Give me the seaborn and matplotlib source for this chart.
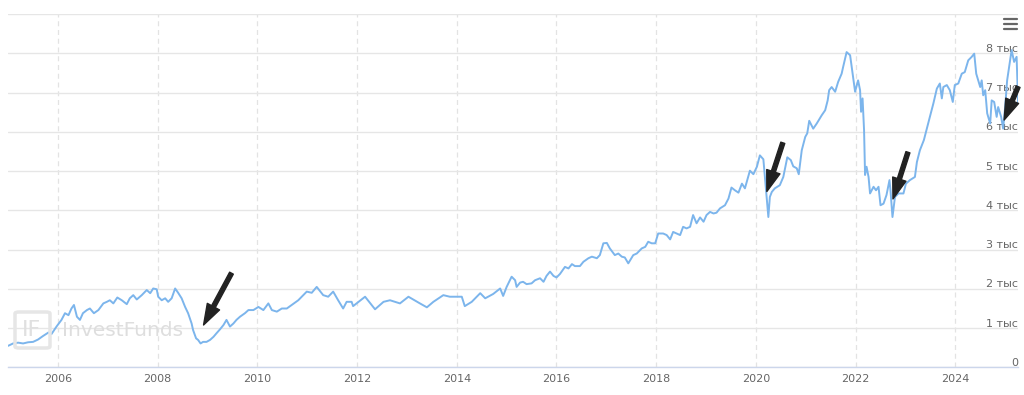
import numpy as np
import pandas as pd
import seaborn as sns
import matplotlib.pyplot as plt
from matplotlib.transforms import ScaledTranslation
from matplotlib.patches import FancyBboxPatch
from matplotlib.lines import Line2D

# index level (decimal year, points)
years = [
    2005.00, 2005.10, 2005.20, 2005.30, 2005.40, 2005.50, 2005.60, 2005.70, 2005.81, 2005.87,
    2005.97, 2006.07, 2006.14, 2006.21, 2006.27, 2006.32, 2006.38, 2006.44, 2006.50, 2006.58,
    2006.64, 2006.72, 2006.81, 2006.91, 2006.98, 2007.04, 2007.11, 2007.19, 2007.28, 2007.38,
    2007.44, 2007.51, 2007.58, 2007.68, 2007.78, 2007.85, 2007.91, 2007.98, 2008.01, 2008.08,
    2008.15, 2008.21, 2008.28, 2008.35, 2008.41, 2008.48, 2008.55, 2008.61, 2008.68, 2008.71,
    2008.77, 2008.81, 2008.86, 2008.91, 2008.98, 2009.05, 2009.12, 2009.18, 2009.25, 2009.32,
    2009.38, 2009.45, 2009.52, 2009.58, 2009.65, 2009.75, 2009.82, 2009.92, 2010.02, 2010.12,
    2010.22, 2010.29, 2010.39, 2010.49, 2010.59, 2010.69, 2010.82, 2010.99, 2011.09, 2011.19,
    2011.32, 2011.42, 2011.52, 2011.62, 2011.72, 2011.79, 2011.89, 2011.92, 2012.16, 2012.36,
    2012.53, 2012.66, 2012.86, 2013.03, 2013.26, 2013.40, 2013.53, 2013.73, 2013.86, 2014.10,
    2014.16, 2014.30, 2014.47, 2014.57, 2014.73, 2014.87, 2014.93, 2015.00, 2015.10, 2015.17,
    2015.20, 2015.27, 2015.33, 2015.40, 2015.50, 2015.57, 2015.67, 2015.74, 2015.80, 2015.87,
    2015.94, 2016.00, 2016.07, 2016.17, 2016.24, 2016.31, 2016.37, 2016.47, 2016.54, 2016.64,
    2016.71, 2016.81, 2016.87, 2016.94, 2017.01, 2017.07, 2017.17, 2017.24, 2017.31, 2017.37,
    2017.44, 2017.54, 2017.61, 2017.71, 2017.78, 2017.84, 2017.91, 2017.98, 2018.04, 2018.14,
    2018.21, 2018.28, 2018.34, 2018.41, 2018.48, 2018.54, 2018.61, 2018.68, 2018.74, 2018.81,
    2018.88, 2018.95, 2019.01, 2019.08, 2019.15, 2019.21, 2019.28, 2019.38, 2019.45, 2019.51,
    2019.58, 2019.65, 2019.72, 2019.78, 2019.88, 2019.95, 2020.02, 2020.08, 2020.15, 2020.22,
    2020.25, 2020.28, 2020.32, 2020.38, 2020.48, 2020.55, 2020.63, 2020.70, 2020.75, 2020.82,
    2020.86, 2020.92, 2020.99, 2021.03, 2021.07, 2021.15, 2021.22, 2021.32, 2021.39, 2021.44,
    2021.47, 2021.52, 2021.59, 2021.65, 2021.72, 2021.75, 2021.82, 2021.89, 2021.94, 2021.99,
    2022.05, 2022.09, 2022.11, 2022.14, 2022.17, 2022.19, 2022.22, 2022.26, 2022.29, 2022.36,
    2022.41, 2022.46, 2022.50, 2022.56, 2022.62, 2022.68, 2022.70, 2022.74, 2022.79, 2022.86,
    2022.96, 2023.01, 2023.09, 2023.19, 2023.23, 2023.29, 2023.37, 2023.43, 2023.49, 2023.56,
    2023.63, 2023.69, 2023.73, 2023.76, 2023.83, 2023.89, 2023.95, 2023.99, 2024.06, 2024.13,
    2024.19, 2024.26, 2024.33, 2024.38, 2024.42, 2024.46, 2024.50, 2024.53, 2024.56, 2024.60,
    2024.64, 2024.70, 2024.73, 2024.78, 2024.83, 2024.86, 2024.92, 2024.96, 2025.00, 2025.04,
    2025.10, 2025.13, 2025.18, 2025.23, 2025.26,
]
values = [
    550, 610, 630, 610, 640, 650, 710, 800, 890, 850,
    1040, 1210, 1380, 1330, 1500, 1590, 1290, 1210, 1380, 1460,
    1500, 1380, 1460, 1630, 1670, 1710, 1630, 1780, 1710, 1610,
    1760, 1840, 1730, 1840, 1970, 1890, 2010, 1990, 1800, 1710,
    1760, 1670, 1760, 2010, 1900, 1760, 1540, 1380, 1120, 950,
    740, 700, 610, 650, 650, 700, 780, 870, 970, 1080,
    1210, 1040, 1120, 1210, 1290, 1380, 1460, 1460, 1540, 1460,
    1630, 1460, 1420, 1500, 1500, 1590, 1710, 1930, 1900, 2050,
    1840, 1800, 1930, 1710, 1500, 1670, 1670, 1560, 1800, 1480,
    1670, 1710, 1630, 1800, 1630, 1530, 1670, 1840, 1800, 1800,
    1560, 1670, 1890, 1760, 1870, 2010, 1820, 2050, 2310, 2220,
    2050, 2160, 2180, 2120, 2140, 2220, 2270, 2180, 2330, 2440,
    2330, 2290, 2380, 2560, 2520, 2630, 2580, 2580, 2690, 2780,
    2820, 2780, 2860, 3160, 3170, 3030, 2860, 2900, 2820, 2800,
    2650, 2860, 2900, 3030, 3070, 3200, 3160, 3160, 3410, 3410,
    3370, 3260, 3450, 3410, 3370, 3580, 3540, 3580, 3880, 3670,
    3820, 3710, 3880, 3960, 3920, 3940, 4050, 4130, 4300, 4580,
    4510, 4450, 4680, 4560, 5010, 4920, 5110, 5400, 5300, 4260,
    3830, 4340, 4470, 4560, 4640, 4850, 5350, 5280, 5120, 5070,
    4920, 5530, 5870, 5960, 6280, 6080, 6210, 6420, 6550, 6800,
    7060, 7140, 7020, 7270, 7480, 7650, 8030, 7950, 7480, 7020,
    7310, 7060, 6510, 6850, 6040, 4900, 5110, 4850, 4430, 4600,
    4510, 4600, 4130, 4170, 4390, 4770, 4510, 3830, 4340, 4430,
    4430, 4680, 4770, 4850, 5230, 5530, 5790, 6080, 6380, 6720,
    7100, 7230, 6850, 7140, 7190, 7060, 6760, 7190, 7230, 7480,
    7520, 7820, 7910, 7990, 7480, 7310, 7140, 7310, 6930, 7060,
    6470, 6210, 6800, 6760, 6380, 6630, 6380, 6080, 6630, 7310,
    7820, 8080, 7780, 7910, 6720,
]

x_ticks = [2006, 2008, 2010, 2012, 2014, 2016, 2018, 2020, 2022, 2024]
y_ticks = [0, 1000, 2000, 3000, 4000, 5000, 6000, 7000, 8000, 9000]
y_labels = ['0', '1 тыс', '2 тыс', '3 тыс', '4 тыс', '5 тыс', '6 тыс', '7 тыс', '8 тыс', '']

# arrows drawn on the chart: (tail year, tail value, tip year, tip value)
arrow_tails_x = [2009.48, 2020.54, 2023.05, 2025.26]
arrow_tails_y = [2400, 5720, 5480, 7150]
arrow_tips_x = [2008.92, 2020.22, 2022.75, 2024.98]
arrow_tips_y = [1080, 4480, 4290, 6300]

df = pd.DataFrame({'year': years, 'value': values})

sns.set_style('white')
plt.rcParams['font.family'] = ['DejaVu Sans']

fig = plt.figure(figsize=(10.24, 3.95), dpi=100)
ax = fig.add_axes([8 / 1024, (395 - 367.4) / 395, 1010 / 1024, (367.4 - 14) / 395])

sns.lineplot(data=df, x='year', y='value', ax=ax, color='#7cb5ec',
             linewidth=1.4, estimator=None, zorder=3)

ax.set_xlim(2004.997, 2025.258)
ax.set_ylim(0, 9000)
ax.set_xlabel('')
ax.set_ylabel('')

ax.set_xticks(x_ticks)
ax.set_xticklabels([str(t) for t in x_ticks])
ax.set_yticks(y_ticks)
ax.set_yticklabels(y_labels)

ax.grid(axis='y', color='#e6e6e6', linewidth=1, linestyle='-')
ax.grid(axis='x', color='#e3e3e3', linewidth=0.9, linestyle=(0, (4, 3)))
ax.set_axisbelow(True)

for s in ['top', 'left', 'right']:
    ax.spines[s].set_visible(False)
ax.spines['bottom'].set_color('#ccd6eb')
ax.spines['bottom'].set_linewidth(1)

ax.yaxis.tick_right()
ax.tick_params(axis='y', length=0, pad=0, labelsize=8, labelcolor='#666666')
ax.tick_params(axis='x', length=0, pad=5, labelsize=8, labelcolor='#666666')
for lbl in ax.get_yticklabels():
    lbl.set_horizontalalignment('right')
    lbl.set_transform(lbl.get_transform() + ScaledTranslation(0, 4 / 72, fig.dpi_scale_trans))

# watermark
fig.text(62 / 1024, 1 - 330 / 395, 'InvestFunds', fontsize=14.5, color='#dedede',
         va='center', ha='left', zorder=1)
fig.patches.append(FancyBboxPatch((15 / 1024, 1 - 348 / 395), 35 / 1024, 36 / 395,
                                  boxstyle='round,pad=0,rounding_size=0.004',
                                  transform=fig.transFigure, fill=False,
                                  edgecolor='#e6e6e6', linewidth=2.5, zorder=1))
fig.text(32 / 1024, 1 - 330 / 395, 'IF', fontsize=16, color='#e0e0e0',
         va='center', ha='center', zorder=1)

# arrows
for tx, ty, hx, hy in zip(arrow_tails_x, arrow_tails_y, arrow_tips_x, arrow_tips_y):
    ax.annotate('', xy=(hx, hy), xytext=(tx, ty), annotation_clip=False,
                arrowprops=dict(arrowstyle='simple,head_length=1.5,head_width=1.0,tail_width=0.3',
                                color='#222222', shrinkA=0, shrinkB=0,
                                mutation_scale=10), zorder=5)

# menu icon
for yy in [19, 24, 29]:
    fig.add_artist(Line2D([1004 / 1024, 1017 / 1024], [1 - yy / 395, 1 - yy / 395],
                          color='#666666', linewidth=1.6, transform=fig.transFigure))

fig.savefig('out.png', dpi=100)
